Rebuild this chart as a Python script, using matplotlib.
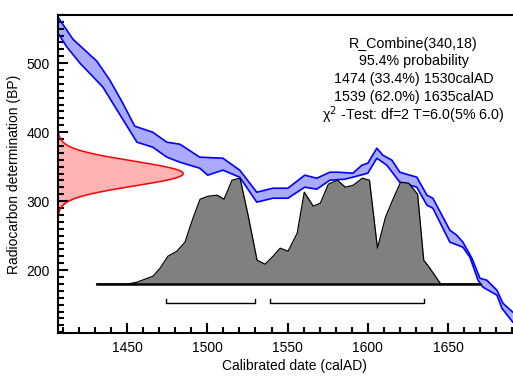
import numpy as np
import matplotlib
matplotlib.use("Agg")
import matplotlib.pyplot as plt
from matplotlib.ticker import MultipleLocator, FixedLocator

plt.rcParams['font.family'] = ['Liberation Sans', 'DejaVu Sans']

# calibration curve (upper / lower edge of the 1-sigma band)
curva_sup_ano = [1407, 1416.3, 1431.2, 1439.3, 1447.4, 1454.8, 1466.0, 1474.8, 1482.9, 1495.3,
                 1509.7, 1520.2, 1530.8, 1540.8, 1550.2, 1560.7, 1568.2, 1576.3, 1581.3, 1590.7,
                 1596.3, 1600.0, 1605.6, 1609.3, 1615.0, 1619.9, 1630.5, 1636.8, 1640.5, 1651.1,
                 1655.4, 1659.2, 1664.8, 1669.8, 1674.1, 1680.4, 1684.1, 1690.3]
curva_sup_bp = [566.7, 534.8, 502.9, 475.4, 442.0, 408.7, 400.0, 385.5, 382.6, 363.8,
                362.3, 345.0, 313.0, 318.8, 318.8, 337.7, 333.3, 342.0, 342.0, 340.6,
                352.2, 355.1, 376.8, 366.7, 359.4, 342.0, 334.8, 308.7, 304.3, 258.0,
                250.7, 240.6, 217.4, 188.4, 185.5, 171.0, 152.2, 139.1]
curva_inf_ano = [1407, 1412.6, 1420.7, 1435.0, 1443.8, 1456.2, 1466.0, 1474.8, 1482.9, 1495.3,
                 1500.3, 1509.7, 1520.2, 1530.8, 1540.8, 1550.2, 1560.7, 1568.2, 1576.3, 1585.7,
                 1590.7, 1600.0, 1605.6, 1611.8, 1619.9, 1630.5, 1636.8, 1640.5, 1651.1, 1659.2,
                 1663.6, 1668.6, 1671.7, 1680.4, 1683.5, 1690.3]
curva_inf_bp = [543.5, 523.2, 500.0, 465.2, 431.9, 385.5, 378.3, 363.8, 356.5, 347.8,
                337.7, 345.0, 334.8, 298.6, 304.3, 304.3, 320.3, 317.4, 330.4, 331.9,
                334.8, 340.6, 362.3, 352.2, 327.5, 320.3, 294.2, 289.9, 240.6, 233.3,
                218.8, 185.5, 175.4, 163.8, 144.9, 124.6]

# calibrated distribution (outline, in BP units above the baseline at 180)
dist_ano = [1431, 1450.6, 1456.2, 1461.2, 1466.2, 1470.6, 1475.5, 1481.1, 1486.1, 1491.1,
            1495.5, 1500.5, 1506.1, 1510.4, 1515.4, 1520.4, 1525.4, 1531.0, 1536.0, 1541.0,
            1545.4, 1550.3, 1556.0, 1560.4, 1566.0, 1570.4, 1575.4, 1581.0, 1586.0, 1591.0,
            1596.6, 1601.0, 1606.0, 1611.0, 1615.4, 1620.4, 1625.4, 1631.0, 1634.8, 1637.3,
            1645.4, 1670]
dist_bp = [180, 180, 182.6, 187.0, 191.3, 202.9, 220.3, 227.5, 240.6, 275.4,
           302.9, 307.2, 308.7, 302.9, 330.4, 333.3, 279.7, 214.5, 208.7, 220.3,
           231.9, 227.5, 253.6, 313.0, 292.8, 297.1, 324.6, 330.4, 320.3, 323.2,
           333.3, 330.4, 231.9, 276.8, 301.4, 327.5, 326.1, 310.1, 214.5, 207.2,
           180, 180]
base_bp = 180

# 95.4% ranges
faixas = [(1474, 1530), (1539, 1635)]

# radiocarbon date
media, sigma = 340, 18

textos = ["R_Combine(340,18)",
          "95.4% probability",
          "1474 (33.4%) 1530calAD",
          "1539 (62.0%) 1635calAD",
          "χ$^{2}$ -Test: df=2 T=6.0(5% 6.0)"]

xticks = [1450, 1500, 1550, 1600, 1650]

xmin, xmax = 1407, 1701
ymin, ymax = 109, 570

fig = plt.figure(figsize=(5.13, 3.76), dpi=100)
# the axes run a bit past the right edge of the picture (no right spine visible)
ax = fig.add_axes([58 / 513, 0.1144, 472 / 513, 0.846])

# calibration band
xs = np.concatenate([curva_sup_ano, curva_inf_ano[::-1]])
ys = np.concatenate([curva_sup_bp, curva_inf_bp[::-1]])
ax.fill(xs, ys, color='#aaaaff', lw=0, zorder=1)
ax.plot(curva_sup_ano, curva_sup_bp, color='#0000ff', lw=1.2, zorder=2)
ax.plot(curva_inf_ano, curva_inf_bp, color='#0000ff', lw=1.2, zorder=2)

# normal likelihood on the y axis
yy = np.linspace(media - 4 * sigma, media + 4 * sigma, 300)
pdf = np.exp(-0.5 * ((yy - media) / sigma) ** 2)
largura = 78
ax.fill_betweenx(yy, xmin, xmin + largura * pdf, color='#ffb3b3', lw=0, zorder=1)
ax.plot(xmin + largura * pdf, yy, color='#ff0000', lw=1.1, zorder=2)

# calibrated distribution
ax.fill_between(dist_ano, base_bp, dist_bp, color='#808080', lw=0, zorder=3)
ax.plot(dist_ano, dist_bp, color='black', lw=0.9, zorder=4)
ax.plot([dist_ano[0], dist_ano[-1]], [base_bp, base_bp], color='black', lw=1.8, zorder=4)

# range brackets
for a, b in faixas:
    ax.plot([a, a, b, b], [158, 152, 152, 158], color='black', lw=1.0, zorder=4)

for i, t in enumerate(textos):
    ax.text(1628.5, 528.5 - 25.9 * i, t, ha='center', va='center', fontsize=10.3)

ax.set_xlim(xmin, xmax)
ax.set_ylim(ymin, ymax)
ax.xaxis.set_major_locator(FixedLocator(xticks))
ax.xaxis.set_minor_locator(MultipleLocator(10))
ax.yaxis.set_major_locator(MultipleLocator(100))
ax.yaxis.set_minor_locator(MultipleLocator(10))
ax.tick_params(which='both', direction='in', width=1.5, labelsize=10, pad=6)
ax.tick_params(which='major', length=7)
ax.tick_params(which='minor', length=4)
for s in ax.spines.values():
    s.set_linewidth(1.5)

ax.set_xlabel("Calibrated date (calAD)", fontsize=10, labelpad=3)
ax.set_ylabel("Radiocarbon determination (BP)", fontsize=10, labelpad=4)

fig.savefig("out.png", dpi=100)
